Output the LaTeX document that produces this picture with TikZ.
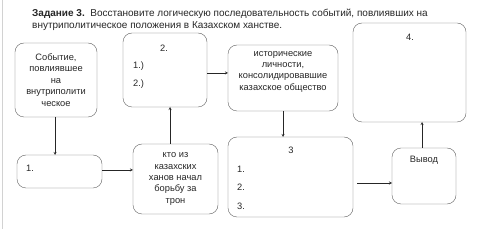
\documentclass[tikz,border=0pt]{standalone}
\usepackage{fontspec}
\setmainfont{Liberation Sans}
\usetikzlibrary{calc}

\begin{document}
\begin{tikzpicture}[>=stealth, x=1pt, y=-1pt,
        box/.style={draw=gray!75!black, rounded corners=9pt, inner sep=0pt, outer sep=0pt,
            align=center, text=black!85, font=\fontsize{9.3}{11.4}\selectfont},
        lbl/.style={inner sep=0pt, text=black!85, font=\fontsize{9.3}{11.4}\selectfont},
        link/.style={->, gray!30!black}]
        % --- 1. Frame ---
        \useasboundingbox (0,0) rectangle (500,229);
        \draw[gray!35] (2,0) -- (2,229);

        % --- 2. Title ---
        \node[anchor=west, inner sep=0pt, font=\fontsize{10}{12}\selectfont, text=black!85] (title1) at (32,14)
            {\textbf{Задание 3.}\ \ Восстановите логическую последовательность событий, повлиявших на};
        \node[anchor=west, inner sep=0pt, font=\fontsize{10}{12}\selectfont, text=black!85] (title2) at (32,26)
            {внутриполитическое положения в Казахском ханстве.};

        % --- 3. Boxes ---
        \node[box, minimum width=82, minimum height=74] (event) at (56,80)
            {Событие,\\повлиявшее\\на\\внутриполити\\ческое};
        \node[box, minimum width=84, minimum height=74] (two) at (165,70) {};
        \node[box, minimum width=110, minimum height=66] (persons) at (283,78)
            {исторические\\личности,\\консолидировавшие\\казахское общество\\[3pt]};
        \node[box, minimum width=113, minimum height=99] (four) at (409.5,72.5) {};
        \node[box, minimum width=85, minimum height=33] (one) at (59.5,171.5) {};
        \node[box, minimum width=85, minimum height=70] (khan) at (175.5,179)
            {кто из\\казахских\\ханов начал\\борьбу за\\трон};
        \node[box, minimum width=125, minimum height=80] (three) at (290.5,177) {};
        \node[box, minimum width=64, minimum height=56] (result) at (424,176) {};

        % --- 4. Texts inside the boxes ---
        \node[lbl] (twoT) at (164,48) {2.};
        \node[lbl, anchor=west] (twoA) at (133,66) {1.)};
        \node[lbl, anchor=west] (twoB) at (133,84) {2.)};
        \node[lbl] (fourT) at (410,37) {4.};
        \node[lbl, anchor=west] (oneT) at (26,168) {1.};
        \node[lbl] (threeT) at (291,150) {3};
        \node[lbl, anchor=west] (threeA) at (237,169) {1.};
        \node[lbl, anchor=west] (threeB) at (237,187) {2.};
        \node[lbl, anchor=west] (threeC) at (237,206) {3.};
        \node[lbl] (resultT) at (424,160) {Вывод};

        % --- 5. Arrows ---
        \draw[link] ([xshift=-1]event.south) -- ([xshift=-1]event.south |- one.north);
        \draw[link] ([yshift=1.5]one.east) -- ([yshift=1.5]one.east -| khan.west);
        \draw[link] ([xshift=-5.5]khan.north) -- ([xshift=-5.5]khan.north |- two.south);
        \draw[link] ([yshift=-3]two.east) -- ([yshift=-3]two.east -| persons.west);
        \draw[link] (persons.south) -- (persons.south |- three.north);
        \draw[link] ([xshift=4, yshift=-6]three.east) -- ([yshift=-6]three.east -| result.west);
        \draw[link] ([xshift=-2]result.north) -- ([xshift=-2]result.north |- four.south);
\end{tikzpicture}
\end{document}
